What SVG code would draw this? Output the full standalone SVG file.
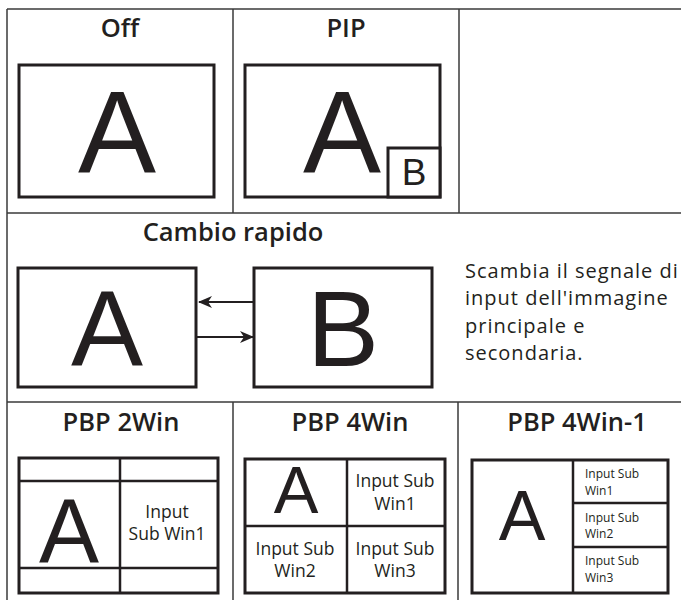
<svg xmlns="http://www.w3.org/2000/svg" width="681" height="600" viewBox="0 0 681 600">
<style>
.grid{stroke:#3a3a3a;stroke-width:1.5;fill:none}
.box{stroke:#231f20;stroke-width:3;fill:#fff}
.div{stroke:#231f20;stroke-width:2.5;fill:none}
.title{font-family:"Open Sans","DejaVu Sans",sans-serif;font-weight:600;font-size:25.5px;fill:#231f20;text-anchor:middle}
.big{font-family:"Liberation Sans",Arial,sans-serif;fill:#231f20;text-anchor:middle}
.desc{font-family:"Open Sans","DejaVu Sans",sans-serif;font-size:20px;letter-spacing:1px;fill:#231f20}
.lbl{font-family:"Open Sans","DejaVu Sans",sans-serif;font-size:17.5px;fill:#231f20;text-anchor:middle}
.sm{font-family:"Open Sans","DejaVu Sans",sans-serif;font-size:12px;fill:#231f20}
.arr{stroke:#231f20;stroke-width:2;fill:none}
</style>
<defs>
<marker id="ah" viewBox="0 0 14 12" refX="13" refY="6" markerWidth="14" markerHeight="12" markerUnits="userSpaceOnUse" orient="auto">
<path d="M0,0 L14,6 L0,12 L4,6 z" fill="#231f20"/>
</marker>
</defs>
<rect width="681" height="600" fill="#fff"/>
<g id="table">
<line class="grid" x1="7" y1="9" x2="681" y2="9"/>
<line class="grid" x1="7" y1="9" x2="7" y2="600"/>
<line class="grid" x1="233" y1="9" x2="233" y2="213"/>
<line class="grid" x1="459" y1="9" x2="459" y2="213"/>
<line class="grid" x1="7" y1="213" x2="681" y2="213"/>
<line class="grid" x1="7" y1="402" x2="681" y2="402"/>
<line class="grid" x1="233" y1="402" x2="233" y2="600"/>
<line class="grid" x1="458" y1="402" x2="458" y2="600"/>
</g>
<g id="off">
<text class="title" x="120" y="37">Off</text>
<rect class="box" x="19" y="65" width="195" height="132"/>
<text class="big" x="117" y="173" font-size="117">A</text>
</g>
<g id="pip">
<text class="title" x="346" y="37">PIP</text>
<rect class="box" x="245" y="65" width="195" height="132"/>
<text class="big" x="342" y="173" font-size="117">A</text>
<rect class="box" x="388" y="148" width="52" height="49"/>
<text class="big" x="414" y="185" font-size="37">B</text>
</g>
<g id="cambio">
<text class="title" x="233" y="241">Cambio rapido</text>
</g>
<g id="swapA">
<rect class="box" x="18" y="268" width="178" height="119"/>
<text class="big" x="107" y="366" font-size="108">A</text>
</g>
<g id="swapB">
<rect class="box" x="254" y="268" width="178" height="119"/>
<text class="big" x="343" y="366" font-size="108">B</text>
</g>
<g id="connectors">
<line class="arr" x1="254" y1="302" x2="199" y2="302" marker-end="url(#ah)"/>
<line class="arr" x1="196" y1="337" x2="253" y2="337" marker-end="url(#ah)"/>
</g>
<g id="desc">
<text class="desc" x="465" y="278">Scambia il segnale di</text>
<text class="desc" x="465" y="305">input dell'immagine</text>
<text class="desc" x="465" y="333">principale e</text>
<text class="desc" x="465" y="360">secondaria.</text>
</g>
<g id="pbp2">
<text class="title" x="121" y="431">PBP 2Win</text>
<rect class="box" x="19" y="458" width="199" height="135"/>
<line class="div" x1="19" y1="481" x2="218" y2="481"/>
<line class="div" x1="19" y1="568" x2="218" y2="568"/>
<line class="div" x1="120" y1="458" x2="120" y2="593"/>
<text class="big" x="69" y="562" font-size="90">A</text>
<text class="lbl" x="167" y="518">Input</text>
<text class="lbl" x="167" y="540">Sub Win1</text>
</g>
<g id="pbp4">
<text class="title" x="350" y="431">PBP 4Win</text>
<rect class="box" x="245" y="459" width="200" height="134"/>
<line class="div" x1="347" y1="459" x2="347" y2="593"/>
<line class="div" x1="245" y1="526" x2="445" y2="526"/>
<text class="big" x="296" y="513" font-size="67">A</text>
<text class="lbl" x="395" y="487">Input Sub</text>
<text class="lbl" x="395" y="510">Win1</text>
<text class="lbl" x="295" y="555">Input Sub</text>
<text class="lbl" x="295" y="577">Win2</text>
<text class="lbl" x="395" y="555">Input Sub</text>
<text class="lbl" x="395" y="577">Win3</text>
</g>
<g id="pbp4-1">
<text class="title" x="577" y="431">PBP 4Win-1</text>
<rect class="box" x="472" y="460" width="196" height="133"/>
<line class="div" x1="573" y1="460" x2="573" y2="593"/>
<line class="div" x1="573" y1="503" x2="668" y2="503"/>
<line class="div" x1="573" y1="547" x2="668" y2="547"/>
<text class="big" x="522" y="540" font-size="70">A</text>
<text class="sm" x="585" y="478">Input Sub</text>
<text class="sm" x="585" y="495">Win1</text>
<text class="sm" x="585" y="522">Input Sub</text>
<text class="sm" x="585" y="538">Win2</text>
<text class="sm" x="585" y="565">Input Sub</text>
<text class="sm" x="585" y="582">Win3</text>
</g>
</svg>
